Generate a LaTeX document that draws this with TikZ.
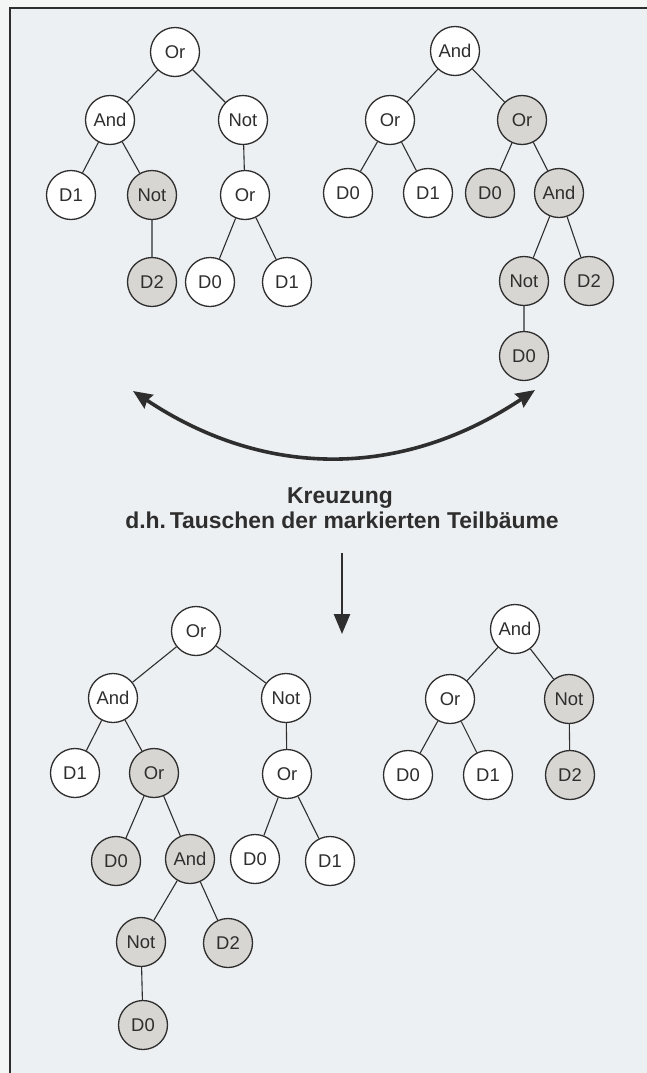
\documentclass[tikz,border=0pt]{standalone}
\usepackage{fontspec}
\setmainfont{Liberation Sans}
\usetikzlibrary{arrows.meta}
\definecolor{paper}{HTML}{F4F5F5}
\definecolor{panel}{HTML}{EDF0F2}
\definecolor{ink}{HTML}{2E2E2E}
\definecolor{marked}{HTML}{D8D6D2}

\begin{document}
\begin{tikzpicture}[x=1bp,y=-1bp,
  op/.style={circle, draw=ink, line width=1.3bp, fill=white, minimum size=49bp,
             inner sep=0pt, text=ink, font=\fontsize{18.5}{18.5}\selectfont},
  sub/.style={op, fill=marked},
  link/.style={draw=ink, line width=1.1bp},
  title/.style={anchor=base, text=ink, font=\bfseries\fontsize{23}{26}\selectfont},
  swap/.style={draw=ink, line width=3.6bp,
               >={Stealth[length=19bp,width=16bp,inset=2bp]}, <->},
]
% page and frame
\useasboundingbox (0,0) rectangle (647,1073);
\fill[paper] (0,0) rectangle (647,1073);
\fill[panel] (10,8) rectangle (647,1073);
\coordinate (fb) at (10,1073);
\coordinate (fc) at (10,8);
\coordinate (fr) at (647,8);
\draw[ink, line width=1.5bp] (fb) -- (fc) -- (fr);

% parent 1: Or(And(D1, Not D2), Not(Or(D0, D1)))
\node[op]  (tl0) at (175,52)  {Or};
\node[op]  (tl1) at (110,120) {And};
\node[op]  (tl2) at (243,120) {Not};
\node[op]  (tl3) at (71,195)  {D1};
\node[sub] (tl4) at (152,195) {Not};
\node[op]  (tl5) at (245,195) {Or};
\node[sub] (tl6) at (152,282) {D2};
\node[op]  (tl7) at (210,282) {D0};
\node[op]  (tl8) at (287,282) {D1};
\draw[link] (tl0) -- (tl1) (tl0) -- (tl2)
            (tl1) -- (tl3) (tl1) -- (tl4)
            (tl2) -- (tl5) (tl4) -- (tl6)
            (tl5) -- (tl7) (tl5) -- (tl8);

% parent 2: And(Or(D0, D1), Or(D0, And(Not D0, D2)))
\node[op]  (tr0) at (455,51)  {And};
\node[op]  (tr1) at (390,120) {Or};
\node[sub] (tr2) at (522,120) {Or};
\node[op]  (tr3) at (348,193) {D0};
\node[op]  (tr4) at (428,193) {D1};
\node[sub] (tr5) at (490,193) {D0};
\node[sub] (tr6) at (559,193) {And};
\node[sub] (tr7) at (524,281) {Not};
\node[sub] (tr8) at (589,281) {D2};
\node[sub] (tr9) at (524,356) {D0};
\draw[link] (tr0) -- (tr1) (tr0) -- (tr2)
            (tr1) -- (tr3) (tr1) -- (tr4)
            (tr2) -- (tr5) (tr2) -- (tr6)
            (tr6) -- (tr7) (tr6) -- (tr8)
            (tr7) -- (tr9);

% crossover arrows and caption
\coordinate (cl) at (133,391);
\coordinate (cr) at (535,390);
\draw[swap] (cl) .. controls (265,479) and (402,479) .. (cr);
\node[title] (k1) at (340,503) {Kreuzung};
\node[title] (k2) at (342,528) {d.h.\,Tauschen der markierten Teilbäume};
\coordinate (dt) at (342,553);
\coordinate (db) at (342,634);
\draw[ink, line width=2.6bp, -{Triangle[length=20bp,width=16bp]}] (dt) -- (db);

% offspring 1: Or(And(D1, Or(D0, And(Not D0, D2))), Not(Or(D0, D1)))
\node[op]  (bl0)  at (196,631)  {Or};
\node[op]  (bl1)  at (113,698)  {And};
\node[op]  (bl2)  at (286,698)  {Not};
\node[op]  (bl3)  at (75,773)   {D1};
\node[sub] (bl4)  at (154,773)  {Or};
\node[op]  (bl5)  at (287,774)  {Or};
\node[sub] (bl6)  at (116,861)  {D0};
\node[sub] (bl7)  at (190,859)  {And};
\node[op]  (bl8)  at (255,859)  {D0};
\node[op]  (bl9)  at (330,861)  {D1};
\node[sub] (bl10) at (141,942)  {Not};
\node[sub] (bl11) at (228,943)  {D2};
\node[sub] (bl12) at (143,1025) {D0};
\draw[link] (bl0) -- (bl1) (bl0) -- (bl2)
            (bl1) -- (bl3) (bl1) -- (bl4)
            (bl2) -- (bl5)
            (bl4) -- (bl6) (bl4) -- (bl7)
            (bl5) -- (bl8) (bl5) -- (bl9)
            (bl7) -- (bl10) (bl7) -- (bl11)
            (bl10) -- (bl12);

% offspring 2: And(Or(D0, D1), Not D2)
\node[op]  (br0) at (515,629) {And};
\node[op]  (br1) at (450,699) {Or};
\node[sub] (br2) at (569,699) {Not};
\node[op]  (br3) at (408,775) {D0};
\node[op]  (br4) at (488,775) {D1};
\node[sub] (br5) at (570,775) {D2};
\draw[link] (br0) -- (br1) (br0) -- (br2)
            (br1) -- (br3) (br1) -- (br4)
            (br2) -- (br5);
\end{tikzpicture}
\end{document}
